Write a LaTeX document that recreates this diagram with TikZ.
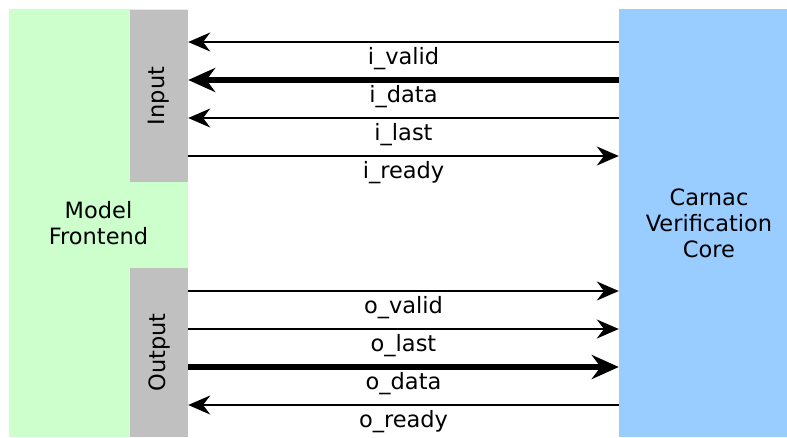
\documentclass[tikz,border=0pt]{standalone}
\usepackage{fontspec}
\setmainfont{DejaVu Sans}
\usetikzlibrary{arrows.meta,positioning}
\definecolor{frontgreen}{RGB}{204,255,204}
\definecolor{portgray}{RGB}{192,192,192}
\definecolor{coreblue}{RGB}{153,204,255}

\begin{document}
\begin{tikzpicture}[
	x=1pt, y=-1pt,
	font=\fontsize{22.5}{26}\selectfont,
	block/.style = {rectangle, inner sep=0pt, align=center},
	frontbox/.style = {block, fill=frontgreen,
		minimum width=179pt, minimum height=428pt},
	corebox/.style = {block, fill=coreblue,
		minimum width=180pt, minimum height=428pt},
	port/.style = {block, fill=portgray, minimum width=58pt},
	sig/.style = {line width=2pt, -{Stealth[length=22pt,width=19pt]}},
	bus/.style = {line width=5.5pt, -{Stealth[length=27pt,width=24pt]}},
	lab/.style = {midway, anchor=base, yshift=-22pt, inner sep=0pt},
	]
	\useasboundingbox (0,0) rectangle (787,437);
	
	\node[frontbox] (front) at (98.5,223) {Model\\Frontend};
	\node[corebox] (core) at (709,223) {Carnac\\Verification\\Core};
	
	\node[port, minimum height=172pt] (in) at (159,96) {\rotatebox{90}{Input}};
	\node[port, minimum height=169pt] (out) at (159,352.5) {\rotatebox{90}{Output}};
	
	% input side
	\draw[sig] (core.west |- 0,42) -- (in.east |- 0,42) node[lab]{i\_valid};
	\draw[bus] (core.west |- 0,80) -- (in.east |- 0,80) node[lab]{i\_data};
	\draw[sig] (core.west |- 0,118) -- (in.east |- 0,118) node[lab]{i\_last};
	\draw[sig] (in.east |- 0,156) -- (core.west |- 0,156) node[lab]{i\_ready};
	
	% output side
	\draw[sig] (out.east |- 0,291) -- (core.west |- 0,291) node[lab]{o\_valid};
	\draw[sig] (out.east |- 0,329) -- (core.west |- 0,329) node[lab]{o\_last};
	\draw[bus] (out.east |- 0,367) -- (core.west |- 0,367) node[lab]{o\_data};
	\draw[sig] (core.west |- 0,405) -- (out.east |- 0,405) node[lab]{o\_ready};
	
\end{tikzpicture}
\end{document}
